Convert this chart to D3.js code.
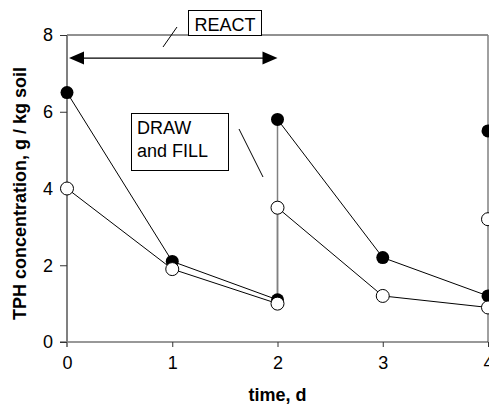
<!DOCTYPE html>
<html>
<head>
<meta charset="utf-8">
<script src="https://cdn.jsdelivr.net/npm/d3@7"></script>
<style>
  body { margin: 0; background: #fff; }
  text { font-family: "Liberation Sans", Arial, sans-serif; fill: #000; }
</style>
</head>
<body>
<svg id="chart" width="489" height="405"></svg>
<script>
// sequencing batch cycles: draw/fill at day 2 and day 4
const days = [0, 1, 2, 2, 3, 4, 4];
const filledSeries = [6.5, 2.1, 1.1, 5.8, 2.2, 1.2, 5.5];
const openSeries = [4.0, 1.9, 1.0, 3.5, 1.2, 0.9, 3.2];
const cycles = [[0, 1, 2], [3, 4, 5], [6]];
const xTicks = [0, 1, 2, 3, 4];
const yTicks = [0, 2, 4, 6, 8];

const svg = d3.select("#chart");

const x = d3.scaleLinear().domain([0, 4]).range([67, 488]);
const y = d3.scaleLinear().domain([0, 8]).range([342, 35]);

const gray = "#808080";

// top frame line
svg.append("line")
    .attr("x1", x(0)).attr("x2", x(4))
    .attr("y1", y(8)).attr("y2", y(8))
    .attr("stroke", "#222").attr("stroke-width", 1);

// right frame (day 4 fill line)
svg.append("line")
    .attr("x1", x(4)).attr("x2", x(4))
    .attr("y1", y(8)).attr("y2", y(0))
    .attr("stroke", gray).attr("stroke-width", 1.5);

// x axis
const xAxis = svg.append("g")
    .attr("transform", `translate(0,${y(0)})`)
    .call(d3.axisBottom(x).tickValues(xTicks).tickFormat(d3.format("d")).tickSize(5).tickPadding(9));
xAxis.select(".domain").attr("stroke", "#333").attr("stroke-width", 1.2)
    .attr("d", `M${x(0) - 7},0H${x(4)}`);
xAxis.selectAll(".tick line").attr("stroke", "#333");
xAxis.selectAll(".tick text").style("font-size", "18px").attr("fill", "#000");

// y axis
const yAxis = svg.append("g")
    .attr("transform", `translate(${x(0)},0)`)
    .call(d3.axisLeft(y).tickValues(yTicks).tickFormat(d3.format("d")).tickSize(7).tickPadding(7));
yAxis.select(".domain").attr("stroke", gray).attr("stroke-width", 2)
    .attr("d", `M0,${y(8)}V${y(0) + 5}`);
yAxis.selectAll(".tick line").attr("stroke", "#333");
yAxis.selectAll(".tick text").style("font-size", "18px").attr("fill", "#000");

// axis titles
svg.append("text")
    .attr("x", x(2)).attr("y", 401)
    .attr("text-anchor", "middle")
    .style("font-size", "18px").style("font-weight", "bold")
    .text("time, d");

svg.append("text")
    .attr("transform", `translate(26,${(y(0) + y(8)) / 2 + 5}) rotate(-90)`)
    .attr("text-anchor", "middle")
    .style("font-size", "18px").style("font-weight", "bold")
    .text("TPH concentration, g / kg soil");

// fill steps (gray verticals)
[filledSeries, openSeries].forEach(series => {
    svg.append("line")
        .attr("x1", x(days[2])).attr("x2", x(days[3]))
        .attr("y1", y(series[2])).attr("y2", y(series[3]))
        .attr("stroke", gray).attr("stroke-width", 1.5);
});

// decay lines within each cycle
const line = d3.line().x(i => x(days[i]));
[filledSeries, openSeries].forEach(series => {
    cycles.filter(c => c.length > 1).forEach(c => {
        svg.append("path")
            .attr("d", line.y(i => y(series[i]))(c))
            .attr("fill", "none")
            .attr("stroke", "#000")
            .attr("stroke-width", 1);
    });
});

// markers
svg.selectAll(".filled")
    .data(days.map((d, i) => ({ day: d, value: filledSeries[i] })))
    .enter()
    .append("circle")
    .attr("class", "filled")
    .attr("cx", d => x(d.day))
    .attr("cy", d => y(d.value))
    .attr("r", 6.5)
    .attr("fill", "#000");

svg.selectAll(".open")
    .data(days.map((d, i) => ({ day: d, value: openSeries[i] })))
    .enter()
    .append("circle")
    .attr("class", "open")
    .attr("cx", d => x(d.day))
    .attr("cy", d => y(d.value))
    .attr("r", 6.5)
    .attr("fill", "#fff")
    .attr("stroke", "#000")
    .attr("stroke-width", 1);

// REACT double arrow
const arrowY = y(7.4);
const ax0 = x(0) + 2, ax1 = x(2);
svg.append("line")
    .attr("x1", ax0 + 12).attr("x2", ax1 - 12)
    .attr("y1", arrowY).attr("y2", arrowY)
    .attr("stroke", "#000").attr("stroke-width", 1.2);
svg.append("path")
    .attr("d", `M${ax0},${arrowY}L${ax0 + 15},${arrowY - 6.5}L${ax0 + 15},${arrowY + 6.5}Z`)
    .attr("fill", "#000");
svg.append("path")
    .attr("d", `M${ax1},${arrowY}L${ax1 - 15},${arrowY - 6.5}L${ax1 - 15},${arrowY + 6.5}Z`)
    .attr("fill", "#000");

// REACT label
svg.append("rect")
    .attr("x", 188.5).attr("y", 10.5).attr("width", 73).attr("height", 25)
    .attr("fill", "#fff").attr("stroke", "#000").attr("stroke-width", 1);
svg.append("text")
    .attr("x", 225).attr("y", 31)
    .attr("text-anchor", "middle")
    .style("font-size", "18px")
    .text("REACT");
svg.append("line")
    .attr("x1", 163).attr("y1", 47).attr("x2", 177).attr("y2", 27)
    .attr("stroke", "#000").attr("stroke-width", 1);

// DRAW and FILL label
svg.append("rect")
    .attr("x", 131.5).attr("y", 113.5).attr("width", 97).attr("height", 57)
    .attr("fill", "#fff").attr("stroke", "#000").attr("stroke-width", 1);
const drawText = svg.append("text")
    .attr("x", 137).attr("y", 134)
    .style("font-size", "18px");
drawText.append("tspan").attr("x", 137).attr("y", 134).text("DRAW");
drawText.append("tspan").attr("x", 137).attr("y", 157).text("and FILL");
svg.append("line")
    .attr("x1", 239).attr("y1", 129).attr("x2", 263).attr("y2", 177)
    .attr("stroke", "#000").attr("stroke-width", 1);
</script>
</body>
</html>
